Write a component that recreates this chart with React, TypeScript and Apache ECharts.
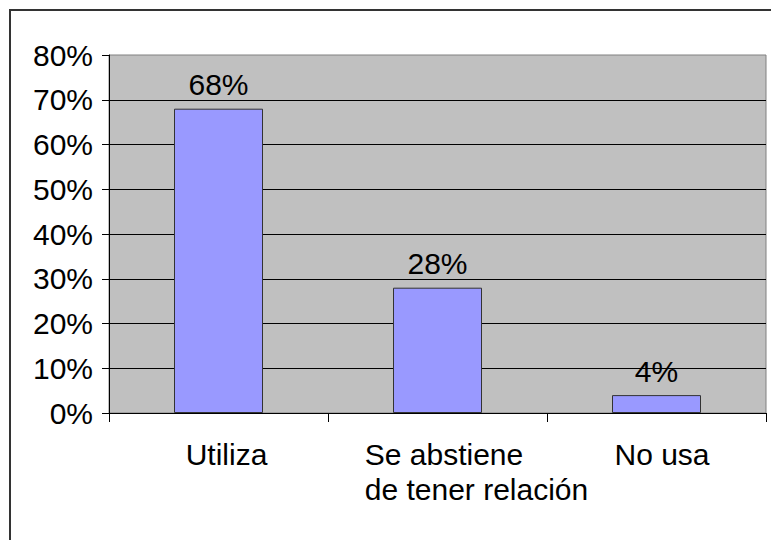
import React, { useEffect, useRef } from "react";
import * as echarts from "echarts";

const categories = ["Utiliza", "Se abstiene\nde tener relación", "No usa"];
const values = [0.68, 0.28, 0.04];
const yTicks = [0, 0.1, 0.2, 0.3, 0.4, 0.5, 0.6, 0.7, 0.8];

const FONT = "'Liberation Sans', Arial, sans-serif";

export default function App() {
  const ref = useRef<HTMLDivElement>(null);

  useEffect(() => {
    if (!ref.current) return;
    const chart = echarts.init(ref.current, null, { renderer: "svg" });
    const labelPads = [16, 78, 11];
    chart.setOption({
      animation: false,
      backgroundColor: "#ffffff",
      graphic: [
        {
          type: "rect",
          shape: { x: 10, y: 10, width: 800, height: 600 },
          style: { fill: "none", stroke: "#333333", lineWidth: 2 },
          silent: true,
          z: 100,
        },
      ],
      grid: {
        left: 109,
        right: 5,
        top: 55,
        bottom: 127,
        show: true,
        backgroundColor: "#c0c0c0",
        borderColor: "#808080",
        borderWidth: 1,
      },
      xAxis: {
        type: "category",
        data: categories.map((c, i) => ({
          value: c,
          textStyle: { padding: [0, 0, 0, labelPads[i]] },
        })),
        boundaryGap: true,
        axisLine: { show: true, lineStyle: { color: "#000", width: 1 } },
        axisTick: { show: true, length: 9, alignWithLabel: false, lineStyle: { color: "#000" } },
        axisLabel: {
          interval: 0,
          margin: 24,
          color: "#000",
          fontSize: 30,
          fontFamily: FONT,
          lineHeight: 35,
          formatter: (v: string) =>
            v
              .split("\n")
              .map((line) => `{l|${line}}`)
              .join("\n"),
          rich: {
            l: {
              align: "left",
              fontSize: 30,
              fontFamily: FONT,
              color: "#000",
              lineHeight: 35,
            },
          },
        },
        splitLine: { show: false },
      },
      yAxis: {
        type: "value",
        min: yTicks[0],
        max: yTicks[yTicks.length - 1],
        interval: 0.1,
        axisLine: { show: true, lineStyle: { color: "#000", width: 1 } },
        axisTick: { show: true, length: 7, inside: false, lineStyle: { color: "#000" } },
        axisLabel: {
          margin: 16,
          color: "#000",
          fontSize: 30,
          fontFamily: FONT,
          formatter: (v: number) => `${Math.round(v * 100)}%`,
        },
        splitLine: {
          show: true,
          showMaxLine: false,
          lineStyle: { color: "#000", width: 1 },
        },
      },
      series: [
        {
          type: "bar",
          data: values,
          barWidth: 89,
          itemStyle: {
            color: "#9999ff",
            borderColor: "#333333",
            borderWidth: 1,
          },
          label: {
            show: true,
            position: "top",
            distance: 9,
            color: "#000",
            fontSize: 30,
            fontFamily: FONT,
            formatter: (p: any) => `${Math.round(p.value * 100)}%`,
          },
        },
      ],
    });
    return () => chart.dispose();
  }, []);

  return (
    <div
      ref={ref}
      style={{ position: "absolute", left: 0, top: 0, width: 771, height: 540 }}
    />
  );
}
